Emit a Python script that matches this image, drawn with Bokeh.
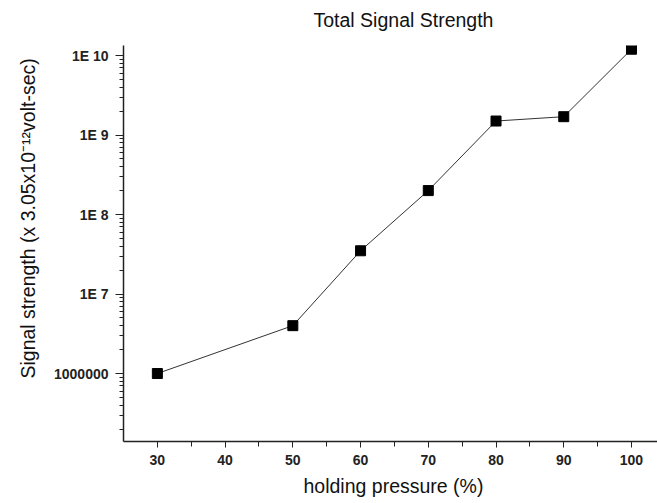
from bokeh.plotting import figure
from bokeh.models import FixedTicker, Range1d, Title
from bokeh.embed import file_html
from bokeh.resources import INLINE

# data
pressure = [30, 50, 60, 70, 80, 90, 100]
signal = [1.0e6, 4.0e6, 3.5e7, 2.0e8, 1.5e9, 1.7e9, 1.2e10]

x_ticks = [30, 40, 50, 60, 70, 80, 90, 100]
x_minor = [35, 45, 55, 65, 75, 85, 95]
y_ticks = [10**6, 10**7, 10**8, 10**9, 10**10]
y_tick_labels = ["1000000", "1E 7", "1E 8", "1E 9", "1E 10"]

FONT = "Liberation Sans"
AXIS_COL = "#222222"
TEXT_COL = "#111111"

p = figure(width=657, height=503, y_axis_type="log",
           x_range=Range1d(25, 103.84),
           y_range=Range1d(10**5.145, 10**10.126),
           output_backend="svg", toolbar_location=None,
           min_border_left=123, min_border_top=45,
           min_border_bottom=62, min_border_right=0)
p.outline_line_color = None
p.xgrid.visible = False
p.ygrid.visible = False

p.line(pressure, signal, line_color="#333333", line_width=1)
p.scatter(pressure, signal, marker="square", size=10,
          fill_color="black", line_color="black")

# axes
p.xaxis.ticker = FixedTicker(ticks=x_ticks, minor_ticks=x_minor)
y_minor = [m * 10**e for e in range(5, 11) for m in range(2, 10)]
p.yaxis.ticker = FixedTicker(ticks=y_ticks, minor_ticks=y_minor)
p.yaxis.major_label_overrides = dict(zip(y_ticks, y_tick_labels))

for ax in (p.xaxis, p.yaxis):
    ax.axis_line_color = AXIS_COL
    ax.axis_line_width = 1.5
    ax.major_tick_line_color = AXIS_COL
    ax.minor_tick_line_color = AXIS_COL
    ax.major_tick_in = 0
    ax.minor_tick_in = 0
    ax.major_label_text_font = FONT
    ax.major_label_text_font_size = "14px"
    ax.major_label_text_font_style = "bold"
    ax.major_label_text_color = AXIS_COL

p.xaxis.major_tick_out = 6
p.xaxis.minor_tick_out = 5
p.xaxis.major_label_standoff = 7
p.yaxis.major_tick_out = 8
p.yaxis.minor_tick_out = 4
p.yaxis.major_label_standoff = 7


def side_title(text, offset, standoff):
    return Title(text=text, align="left", offset=offset, standoff=standoff,
                 text_font=FONT, text_font_size="19.5px",
                 text_font_style="normal", text_color=TEXT_COL)


# blank spacer between the frame and the title, to lift the title up
p.add_layout(Title(text=" ", text_font_size="1px", standoff=10), "above")
p.add_layout(side_title("Total Signal Strength", 190, 4), "above")
p.add_layout(side_title("Signal strength (x 3.05x10\u207b\u00b9\u00b2volt-sec)", 63, 24), "left")
p.add_layout(side_title("holding pressure (%)", 180, 10), "below")

open("out.html", "w").write(file_html(p, INLINE))
